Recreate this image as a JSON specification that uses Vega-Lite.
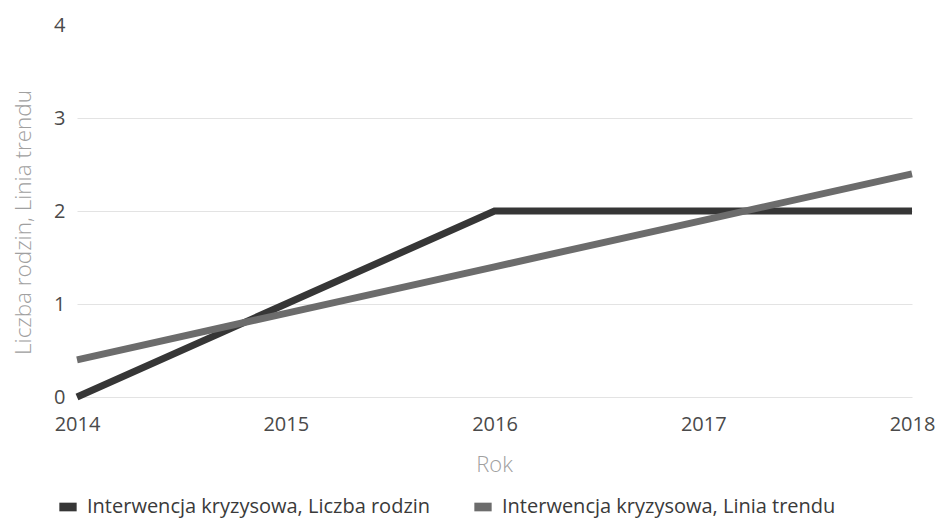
{
  "$schema": "https://vega.github.io/schema/vega-lite/v6.json",
  "width": 835,
  "height": 372,
  "autosize": "none",
  "padding": {"left": 77, "top": 25, "right": 24, "bottom": 123},
  "background": "white",
  "config": {
    "view": {"stroke": null},
    "font": "Open Sans"
  },
  "data": {
    "values": [
      {"Rok": 2014, "Seria": "Interwencja kryzysowa, Liczba rodzin", "Wartosc": 0},
      {"Rok": 2015, "Seria": "Interwencja kryzysowa, Liczba rodzin", "Wartosc": 1},
      {"Rok": 2016, "Seria": "Interwencja kryzysowa, Liczba rodzin", "Wartosc": 2},
      {"Rok": 2017, "Seria": "Interwencja kryzysowa, Liczba rodzin", "Wartosc": 2},
      {"Rok": 2018, "Seria": "Interwencja kryzysowa, Liczba rodzin", "Wartosc": 2},
      {"Rok": 2014, "Seria": "Interwencja kryzysowa, Linia trendu", "Wartosc": 0.4},
      {"Rok": 2015, "Seria": "Interwencja kryzysowa, Linia trendu", "Wartosc": 0.9},
      {"Rok": 2016, "Seria": "Interwencja kryzysowa, Linia trendu", "Wartosc": 1.4},
      {"Rok": 2017, "Seria": "Interwencja kryzysowa, Linia trendu", "Wartosc": 1.9},
      {"Rok": 2018, "Seria": "Interwencja kryzysowa, Linia trendu", "Wartosc": 2.4}
    ]
  },
  "mark": {"type": "line", "strokeWidth": 7, "strokeCap": "butt"},
  "encoding": {
    "x": {
      "field": "Rok",
      "type": "quantitative",
      "scale": {"domain": [2014, 2018], "nice": false, "zero": false},
      "axis": {
        "values": [2014, 2015, 2016, 2017, 2018],
        "format": "d",
        "grid": false,
        "domain": false,
        "ticks": false,
        "labelFontSize": 20,
        "labelColor": "#4a4a4a",
        "labelPadding": 17,
        "labelFlush": false,
        "labelOverlap": false,
        "title": "Rok",
        "titleFontSize": 22,
        "titleFontWeight": 300,
        "titleColor": "#a0a0a0",
        "titlePadding": 20,
        "titleX": 417
      }
    },
    "y": {
      "field": "Wartosc",
      "type": "quantitative",
      "scale": {"domain": [0, 4], "nice": false},
      "axis": {
        "values": [0, 1, 2, 3, 4],
        "grid": true,
        "gridColor": "#e3e3e3",
        "gridWidth": 1,
        "gridOpacity": {"condition": {"test": "datum.value == 4", "value": 0}, "value": 1},
        "domain": false,
        "ticks": false,
        "labelFontSize": 20,
        "labelColor": "#4a4a4a",
        "labelPadding": 12,
        "title": "Liczba rodzin, Linia trendu",
        "titleFontSize": 22.5,
        "titleFontWeight": 300,
        "titleColor": "#a0a0a0",
        "titlePadding": 18,
        "titleY": 197
      }
    },
    "color": {
      "field": "Seria",
      "type": "nominal",
      "scale": {
        "domain": ["Interwencja kryzysowa, Liczba rodzin", "Interwencja kryzysowa, Linia trendu"],
        "range": ["#363636", "#6c6c6c"]
      },
      "legend": {
        "orient": "none",
        "legendX": -19,
        "legendY": 472,
        "padding": 0,
        "direction": "horizontal",
        "title": null,
        "symbolType": "M-1,-0.5H1V0.5H-1Z",
        "symbolSize": 300,
        "symbolStrokeWidth": 0,
        "labelFontSize": 20,
        "labelColor": "#3a3a3a",
        "labelLimit": 500,
        "labelOffset": 9,
        "columnPadding": 42,
        "encode": {
          "symbols": {"update": {"fill": {"field": "value", "scale": "color"}, "strokeWidth": {"value": 0}}}
        }
      }
    }
  }
}
